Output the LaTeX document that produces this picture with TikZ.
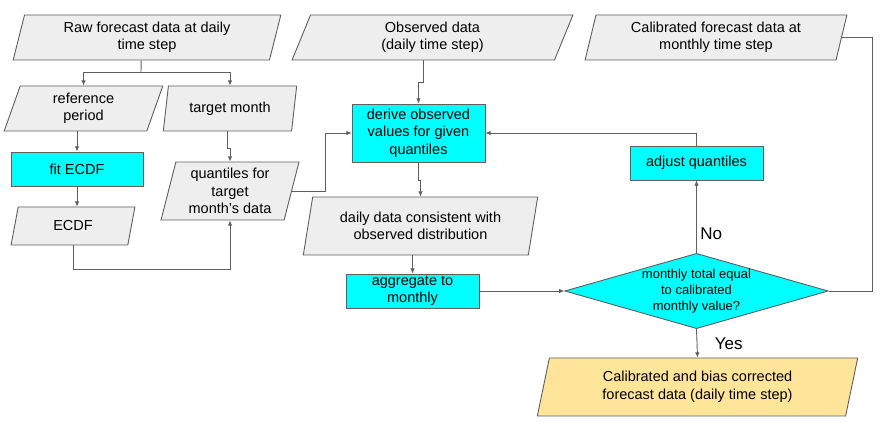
\documentclass[tikz,border=0pt]{standalone}
\usepackage{fontspec}
\setmainfont{Liberation Sans}
\usepackage{tikz}
\usetikzlibrary{shapes.geometric}
\usetikzlibrary{arrows.meta}
\tikzset{>={Latex[width=1.6mm,length=1.8mm]}}
\definecolor{linegray}{HTML}{5F5F5F}
\definecolor{boxgray}{HTML}{EEEEEE}
\definecolor{calcyan}{HTML}{00FFFF}
\definecolor{outyellow}{HTML}{FFE599}
\tikzset{
  data/.style={trapezium, trapezium left angle=76, trapezium right angle=104,
    trapezium stretches=true, draw=linegray, fill=boxgray, align=center,
    inner sep=0pt, font=\fontsize{14.5}{17.5}\selectfont},
  proc/.style={rectangle, draw=linegray, fill=calcyan, align=center,
    inner sep=0pt, font=\fontsize{14.5}{17.5}\selectfont},
  test/.style={diamond, aspect=3.5, draw=linegray, fill=calcyan, align=center,
    inner sep=0pt, font=\fontsize{13}{16}\selectfont},
  answer/.style={font=\fontsize{17}{20}\selectfont}
}

\begin{document}
\begin{tikzpicture}[x=1pt, y=-1pt, line width=0.9pt, draw=linegray]
    \useasboundingbox (0,0) rectangle (887,435);
    % inputs
    \node[data, minimum width=268, minimum height=45] (raw) at (147,37.5) {Raw forecast data at daily\\time step};
    \node[data, minimum width=281, minimum height=45] (obs) at (432.5,37.5) {Observed data\\(daily time step)};
    \node[data, minimum width=262, minimum height=45] (calm) at (716,37.5) {Calibrated forecast data at\\monthly time step};
    % forecast branch
    \node[data, minimum width=159, minimum height=45] (refp) at (83.5,108.5) {reference\\period};
    \node[data, minimum width=134, minimum height=45] (tmon) at (230,108.5) {target month};
    \node[proc, minimum width=132, minimum height=34] (fit) at (77,169) {fit ECDF};
    \node[data, minimum width=124, minimum height=38] (ecdf) at (73,226) {ECDF};
    \node[data, minimum width=138, minimum height=58] (quant) at (230,191) {quantiles for\\target\\month's data};
    % observed branch
    \node[proc, minimum width=133, minimum height=58] (derive) at (418.5,133) {derive observed\\values for given\\quantiles};
    \node[data, minimum width=235, minimum height=58] (daily) at (420.5,226) {daily data consistent with\\observed distribution};
    \node[proc, minimum width=133, minimum height=34] (agg) at (412.5,291) {aggregate to\\monthly};
    % check loop
    \node[test] (dia) at (696.5,291) {monthly total equal\\to calibrated\\monthly value?};
    \node[proc, minimum width=133, minimum height=34] (adj) at (696.5,163) {adjust quantiles};
    \node[data, fill=outyellow, minimum width=321, minimum height=58] (final) at (697.5,387) {Calibrated and bias corrected\\forecast data (daily time step)};
    \coordinate (split) at (141,72);

    \draw (raw.bottom side) -- (split);
    \draw[->] (split) -| (refp.north);
    \draw[->] (split) -| (tmon.north);
    \draw[->] (fit.north |- refp.south) -- (fit.north);
    \draw[->] (tmon.bottom side) -- ++(0,17) -| (quant.north);
    \draw[->] (fit.south) -- (fit.south |- ecdf.north);
    \draw[->] (ecdf.south) -- ++(0,24) -| (quant.south);
    \draw[->] (quant.right side) -- ++(33,0) |- (derive.west);
    \draw[->] (obs.bottom side) -- ++(0,22) -| (derive.north);
    \draw[->] (derive.south) -- ++(0,18) -| (daily.north);
    \draw[->] (agg.north |- daily.south) -- (agg.north);
    \draw[->] (agg.east) -- (dia.west);
    \draw[->] (dia.north) -- node[pos=0.26, right, answer] {No} (adj.south);
    \draw[->] (adj.north) |- (derive.east);
    \draw (dia.east) -- ++(44,0) |- (calm.right side);
    \draw[->] (dia.south) -- node[midway, anchor=west, xshift=14pt, answer] {Yes} (final.north);
  \end{tikzpicture}
\end{document}
